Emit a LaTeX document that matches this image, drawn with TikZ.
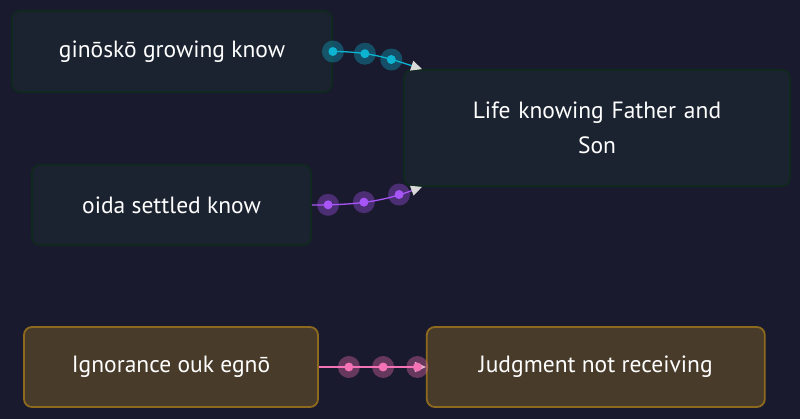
\documentclass[tikz,border=0pt]{standalone}
\usepackage{fontspec}
\setmainfont{PT Sans}
\usetikzlibrary{arrows.meta, positioning}
\definecolor{bgnight}{HTML}{1A1A2E}
\definecolor{nodenight}{HTML}{1B2230}
\definecolor{edgemoss}{HTML}{10291F}
\definecolor{nodebark}{HTML}{483B2A}
\definecolor{edgegold}{HTML}{8D6A1E}
\definecolor{flowcyan}{HTML}{0DB4D2}
\definecolor{flowviolet}{HTML}{A855F7}
\definecolor{flowpink}{HTML}{F472B6}
\definecolor{tipgray}{HTML}{D9D9D9}
\tikzset{
  concept/.style={
    rectangle, rounded corners=8pt, draw=edgemoss, line width=1.8pt,
    fill=nodenight, text=white, align=center,
    font=\fontsize{23.5}{35}\selectfont
  },
  verdict/.style={
    concept, draw=edgegold, fill=nodebark
  },
  flow/.style={
    -{Triangle[length=11pt,width=10pt,color=tipgray]}, line width=1.3pt, draw=#1
  },
  pulse/.style={
    circle, inner sep=0pt, minimum size=22pt, fill=#1, fill opacity=.35,
    path picture={\fill[#1, fill opacity=1] (path picture bounding box.center) circle (4.5pt);}
  }
}

\begin{document}
\begin{tikzpicture}[x=1pt, y=-1pt]

\fill[bgnight] (0,0) rectangle (800,419);
\useasboundingbox (0,0) rectangle (800,419);

% Erkennen
\node[concept, minimum width=320pt, minimum height=81pt] (ginosko) at (172,51.5) {ginōskō growing know};
\node[concept, minimum width=386pt, minimum height=116pt, text width=300pt] (life) at (597,128) {Life knowing Father and\\Son};
\node[concept, minimum width=279pt, minimum height=80pt] (oida) at (171.5,205) {oida settled know};

% Unkenntnis
\node[verdict, minimum width=294pt, minimum height=80pt] (ignorance) at (171,367) {Ignorance ouk egnō};
\node[verdict, minimum width=338pt, minimum height=80pt, right=107pt of ignorance] (judgment) {Judgment not receiving};

\draw[flow=flowcyan] (ginosko.east) to[out=0, in=162]
  node[pulse=flowcyan, pos=0] {}
  node[pulse=flowcyan, pos=.34] {}
  node[pulse=flowcyan, pos=.66] {}
  ([xshift=19pt]life.north west);
\draw[flow=flowviolet] (oida.east) to[out=0, in=200]
  node[pulse=flowviolet, pos=.13] {}
  node[pulse=flowviolet, pos=.46] {}
  node[pulse=flowviolet, pos=.8] {}
  ([xshift=19pt]life.south west);
\draw[flow=flowpink] (ignorance) --
  node[pulse=flowpink, pos=.28] {}
  node[pulse=flowpink, pos=.6] {}
  node[pulse=flowpink, pos=.92] {}
  (judgment);

\end{tikzpicture}
\end{document}
